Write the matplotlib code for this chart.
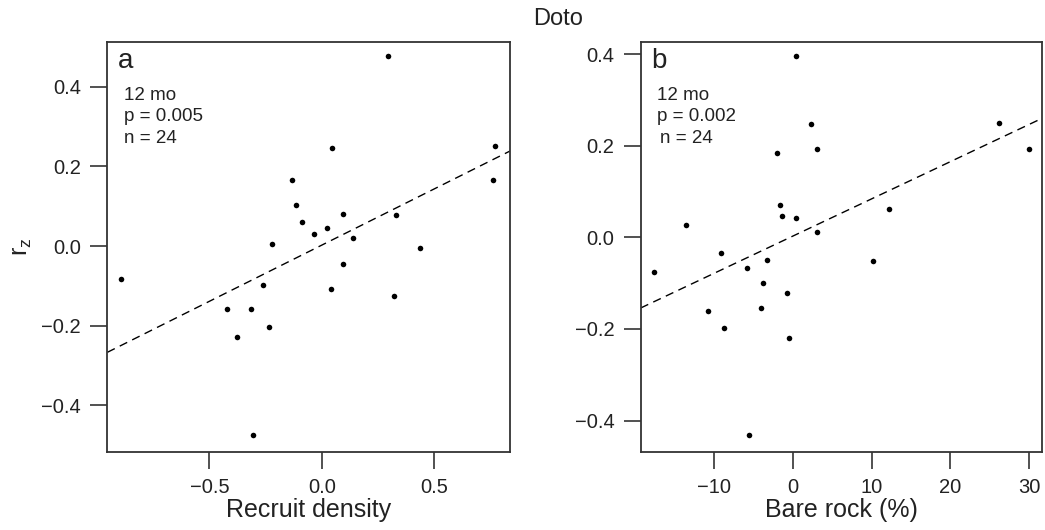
import numpy as np
import matplotlib
matplotlib.use("Agg")
import matplotlib.pyplot as plt

plt.rcParams['font.family'] = ['Liberation Sans', 'DejaVu Sans']

# panel a: recruit density vs r_z
recruit = [0.294, 0.772, 0.765, 0.047, -0.132, -0.113, 0.093, -0.086, -0.036, 0.022,
           0.138, 0.333, -0.221, 0.437, 0.093, -0.893, -0.261, 0.042, 0.321, -0.423,
           -0.313, -0.236, -0.377, -0.306]
rz_a = [0.477, 0.252, 0.165, 0.245, 0.165, 0.103, 0.081, 0.059, 0.031, 0.044,
        0.019, 0.077, 0.005, -0.006, -0.045, -0.082, -0.097, -0.108, -0.125, -0.158,
        -0.158, -0.202, -0.227, -0.475]

# panel b: bare rock vs r_z
bare = [0.46, 26.2, 2.28, 3.04, -1.99, -1.57, -1.40, 0.46, 12.2, -13.49,
        3.04, -9.11, -3.22, 10.18, -5.80, -17.56, -3.81, -0.68, -3.98, -10.79,
        -8.76, -0.47, -5.59, 29.97]
rz_b = [0.397, 0.250, 0.247, 0.194, 0.185, 0.071, 0.046, 0.042, 0.061, 0.026,
        0.011, -0.033, -0.050, -0.052, -0.066, -0.075, -0.100, -0.122, -0.154, -0.160,
        -0.198, -0.220, -0.432, 0.194]

panel_letters = ["a", "b"]
stats_a = ["12 mo", "p = 0.005", "n = 24"]
stats_b = ["12 mo", "p = 0.002", "n = 24"]

dark = "#222222"

fig = plt.figure(figsize=(10.45, 5.30), dpi=100)
ax1 = fig.add_axes([0.1027, 0.1477, 0.3854, 0.7725])
ax2 = fig.add_axes([0.6131, 0.1477, 0.3837, 0.7725])


def draw_panel(ax, x, y, letter, lines, xlim, ylim, xticks, xlabel, text_x):
    x = np.array(x)
    y = np.array(y)
    ax.scatter(x, y, s=16, color="black", zorder=3, linewidths=0)
    m, b = np.polyfit(x, y, 1)
    ax.axline((0, b), slope=m, color="black", lw=1.0, dashes=(6, 4))
    ax.set_xlim(*xlim)
    ax.set_ylim(*ylim)
    ax.set_xticks(xticks)
    ax.set_yticks([-0.4, -0.2, 0.0, 0.2, 0.4])
    ax.set_yticklabels(["\u22120.4", "\u22120.2", "0.0", "0.2", "0.4"])
    ax.tick_params(direction="out", length=12, width=1.2, color="#333333",
                   labelsize=14.5, labelcolor=dark, pad=7)
    for sp in ax.spines.values():
        sp.set_linewidth(1.3)
        sp.set_color("#333333")
    ax.set_xlabel(xlabel, fontsize=18, color=dark, labelpad=1)
    ax.text(0.025, 0.937, letter, transform=ax.transAxes, fontsize=20,
            color=dark, va="baseline", ha="left")
    for t, yy, xx in zip(lines, [0.860, 0.808, 0.753], text_x):
        ax.text(xx, yy, t, transform=ax.transAxes, fontsize=13.5,
                color=dark, va="baseline", ha="left")


draw_panel(ax1, recruit, rz_a, panel_letters[0], stats_a,
           (-0.955, 0.839), (-0.516, 0.511), [-0.5, 0.0, 0.5],
           "Recruit density", [0.042, 0.042, 0.042])
ax1.set_xticklabels(["\u22120.5", "0.0", "0.5"])
ax1.set_ylabel(r"$\mathregular{r_z}$", fontsize=18, color=dark, labelpad=5)

draw_panel(ax2, bare, rz_b, panel_letters[1], stats_b,
           (-19.3, 31.6), (-0.468, 0.426), [-10, 0, 10, 20, 30],
           "Bare rock (%)", [0.041, 0.041, 0.048])
ax2.set_xticklabels(["\u221210", "0", "10", "20", "30"])

fig.text(0.534, 0.985, "Doto", fontsize=17, color=dark, ha="center", va="top")

fig.savefig("out.png", dpi=100)
